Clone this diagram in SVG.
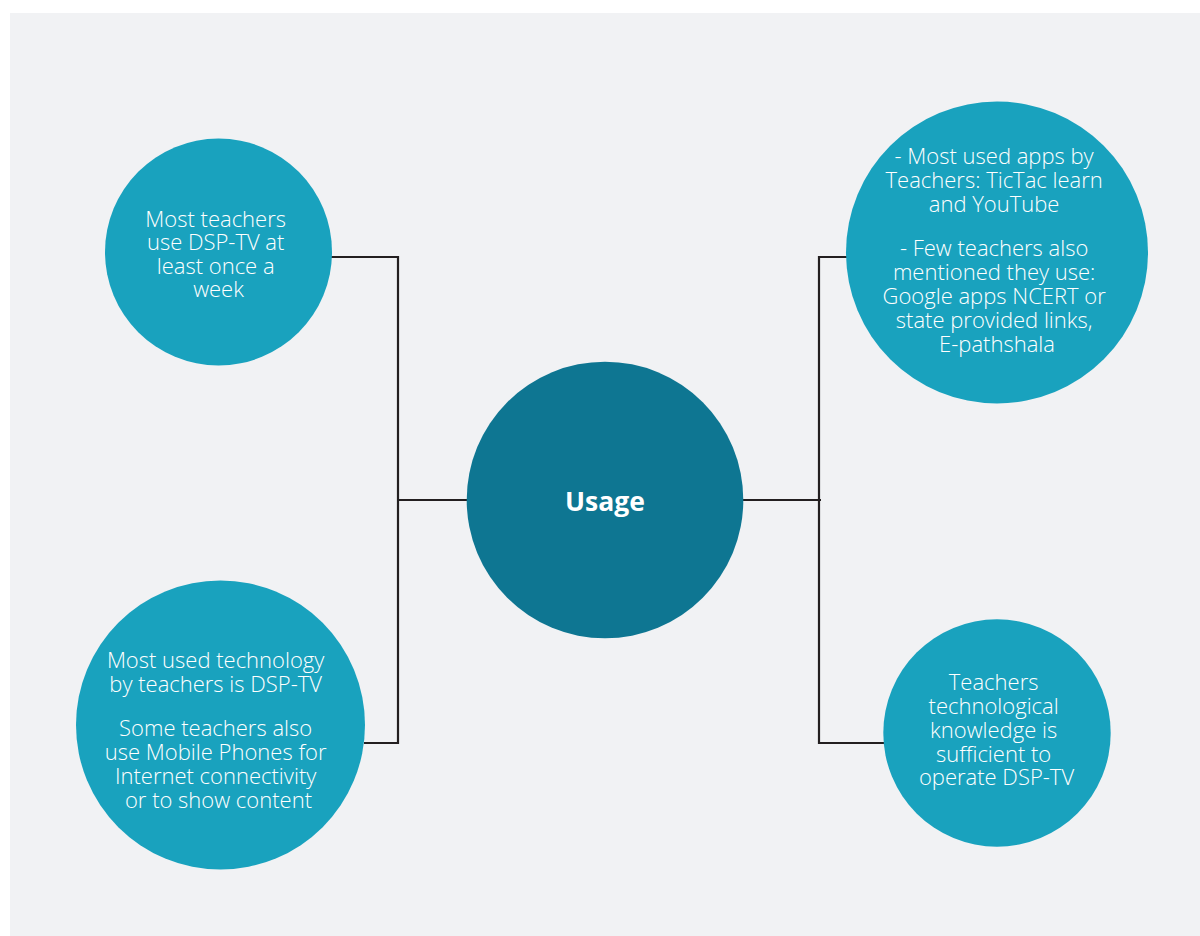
<svg xmlns="http://www.w3.org/2000/svg" width="1200" height="936" viewBox="0 0 1200 936">
  <style>
    .leaf { fill: #19A2BE; }
    .hub { fill: #0E7692; }
    .lbl { font-family: "Open Sans", "Liberation Sans", sans-serif; font-weight: 300; font-size: 22px; fill: #FFFFFF; text-anchor: middle; }
    .hubLbl { font-family: "Open Sans", "Liberation Sans", sans-serif; font-weight: 700; font-size: 26.5px; fill: #FFFFFF; text-anchor: middle; }
    .wire { fill: none; stroke: #231F20; stroke-width: 2.2; stroke-linejoin: miter; }
  </style>

  <rect x="0" y="0" width="1200" height="936" fill="#FFFFFF"/>
  <rect x="10" y="13" width="1190" height="923" fill="#F1F2F4"/>

  <!-- connectors -->
  <g id="connectors">
    <path class="wire" d="M331,257 H398 V743 H364"/>
    <path class="wire" d="M398,500 H467"/>
    <path class="wire" d="M743,500 H821"/>
    <path class="wire" d="M847,257 H819 V743 H884"/>
  </g>

  <g id="node-usage">
    <circle class="hub" cx="605" cy="500" r="138.3"/>
    <text class="hubLbl" x="605" y="511">Usage</text>
  </g>

  <g id="node-weekly">
    <circle class="leaf" cx="218.5" cy="252" r="113.5"/>
    <text class="lbl">
      <tspan x="218.5" y="226.5">Most teachers</tspan>
      <tspan x="218.5" y="250">use DSP-TV at</tspan>
      <tspan x="218.5" y="273.5">least once a</tspan>
      <tspan x="218.5" y="297">week</tspan>
    </text>
  </g>

  <g id="node-apps">
    <circle class="leaf" cx="997" cy="252.5" r="151"/>
    <text class="lbl">
      <tspan x="997" y="163.5">- Most used apps by</tspan>
      <tspan x="997" y="187.5">Teachers: TicTac learn</tspan>
      <tspan x="997" y="211.5">and YouTube</tspan>
      <tspan x="997" y="255.5">- Few teachers also</tspan>
      <tspan x="997" y="279.5">mentioned they use:</tspan>
      <tspan x="997" y="303.5">Google apps NCERT or</tspan>
      <tspan x="997" y="327.5">state provided links,</tspan>
      <tspan x="997" y="351.5">E-pathshala</tspan>
    </text>
  </g>

  <g id="node-technology">
    <circle class="leaf" cx="220.5" cy="725" r="144.5"/>
    <text class="lbl">
      <tspan x="218.5" y="668">Most used technology</tspan>
      <tspan x="218.5" y="692">by teachers is DSP-TV</tspan>
      <tspan x="218.5" y="736">Some teachers also</tspan>
      <tspan x="218.5" y="760">use Mobile Phones for</tspan>
      <tspan x="218.5" y="784">Internet connectivity</tspan>
      <tspan x="218.5" y="808">or to show content</tspan>
    </text>
  </g>

  <g id="node-knowledge">
    <circle class="leaf" cx="997" cy="733" r="113.7"/>
    <text class="lbl">
      <tspan x="996.5" y="690">Teachers</tspan>
      <tspan x="996.5" y="713.5">technological</tspan>
      <tspan x="996.5" y="737.5">knowledge is</tspan>
      <tspan x="996.5" y="761.5">sufficient to</tspan>
      <tspan x="996.5" y="785">operate DSP-TV</tspan>
    </text>
  </g>
</svg>
